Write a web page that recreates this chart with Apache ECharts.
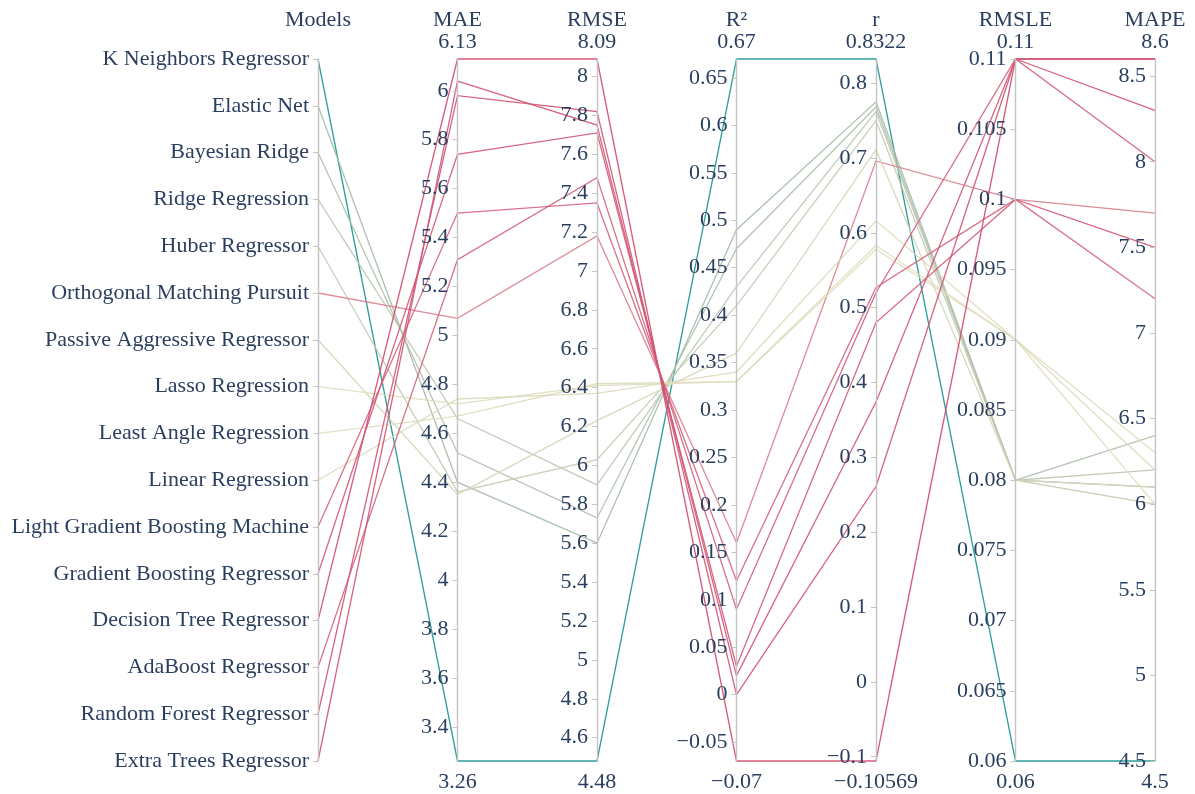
<!DOCTYPE html>
<html>
<head>
<meta charset="utf-8">
<script src="https://cdn.jsdelivr.net/npm/echarts@6/dist/echarts.min.js"></script>
<style>
  html, body { margin: 0; padding: 0; background: #fff; }
  #chart { width: 1195px; height: 794px; }
</style>
</head>
<body>
<div id="chart"></div>
<script>
// Regression model comparison, one row per model (top to bottom on the Models axis)
const models = [
  'K Neighbors Regressor', 'Elastic Net', 'Bayesian Ridge', 'Ridge Regression',
  'Huber Regressor', 'Orthogonal Matching Pursuit', 'Passive Aggressive Regressor',
  'Lasso Regression', 'Least Angle Regression', 'Linear Regression',
  'Light Gradient Boosting Machine', 'Gradient Boosting Regressor',
  'Decision Tree Regressor', 'AdaBoost Regressor', 'Random Forest Regressor',
  'Extra Trees Regressor'
];
const mae   = [3.26, 4.40, 4.52, 4.66, 4.36, 5.07, 4.35, 4.72, 4.67, 4.74, 5.50, 5.74, 6.13, 5.31, 5.98, 6.04];
const rmse  = [4.48, 5.60, 5.73, 5.90, 6.03, 7.18, 6.23, 6.41, 6.42, 6.37, 7.35, 7.71, 8.09, 7.48, 7.82, 7.75];
const r2    = [0.67, 0.49, 0.47, 0.43, 0.41, 0.16, 0.36, 0.33, 0.33, 0.34, 0.12, 0.03, -0.07, 0.09, 0.00, 0.02];
const rCorr = [0.8322, 0.775, 0.768, 0.762, 0.750, 0.696, 0.711, 0.583, 0.578, 0.616, 0.527, 0.48, -0.10569, 0.52, 0.261, 0.374];
const rmsle = [0.06, 0.08, 0.08, 0.08, 0.08, 0.10, 0.08, 0.09, 0.09, 0.09, 0.10, 0.10, 0.11, 0.11, 0.11, 0.11];
const mape  = [4.5, 6.1, 6.4, 6.2, 6.0, 7.7, 6.1, 6.3, 6.0, 6.2, 7.2, 7.5, 8.6, 8.0, 8.6, 8.3];

// Tick labels drawn on each metric axis
const maeTicks   = [3.4, 3.6, 3.8, 4, 4.2, 4.4, 4.6, 4.8, 5, 5.2, 5.4, 5.6, 5.8, 6];
const rmseTicks  = [4.6, 4.8, 5, 5.2, 5.4, 5.6, 5.8, 6, 6.2, 6.4, 6.6, 6.8, 7, 7.2, 7.4, 7.6, 7.8, 8];
const r2Ticks    = [-0.05, 0, 0.05, 0.1, 0.15, 0.2, 0.25, 0.3, 0.35, 0.4, 0.45, 0.5, 0.55, 0.6, 0.65];
const rTicks     = [-0.1, 0, 0.1, 0.2, 0.3, 0.4, 0.5, 0.6, 0.7, 0.8];
const rmsleTicks = [0.06, 0.065, 0.07, 0.075, 0.08, 0.085, 0.09, 0.095, 0.1, 0.105, 0.11];
const mapeTicks  = [4.5, 5, 5.5, 6, 6.5, 7, 7.5, 8, 8.5];

const metricNames  = ['MAE', 'RMSE', 'R²', 'r', 'RMSLE', 'MAPE'];
const metricValues = [mae, rmse, r2, rCorr, rmsle, mape];
const metricTicks  = [maeTicks, rmseTicks, r2Ticks, rTicks, rmsleTicks, mapeTicks];

const FONT = '"Liberation Serif", "Times New Roman", serif';
const TEXT = '#2a3f5f';
const FS = 22;
const W = 1195, LEFT = 318, RIGHT = 40, TOP = 59, BOTTOM = 33, H = 794;
const step = (W - LEFT - RIGHT) / metricNames.length;

const fmt = v => String(Number(Number(v).toFixed(5))).replace('-', '\u2212');

// Ticks and labels sit on the left-hand side of every axis
const axisCommon = {
  nameMoveOverlap: false,
  axisLine: { lineStyle: { color: '#c4c4c4', width: 1.4 } },
  axisTick: { show: true, length: -5, lineStyle: { color: '#c4c4c4' } },
  splitLine: { show: false },
  nameTextStyle: { color: TEXT, fontFamily: FONT, fontSize: FS, lineHeight: 22 },
  axisLabel: { color: TEXT, fontFamily: FONT, fontSize: FS, margin: -9, align: 'right' }
};

const parallelAxis = [{
  dim: 0,
  type: 'category',
  name: 'Models',
  nameLocation: 'start',
  nameGap: 28,
  data: models,
  inverse: true,
  boundaryGap: false,
  ...axisCommon,
  axisTick: { ...axisCommon.axisTick, alignWithLabel: true, interval: 0 },
  axisLabel: { ...axisCommon.axisLabel, interval: 0 }
}];

const rangeLabels = [];
metricNames.forEach((name, i) => {
  const vals = metricValues[i];
  const lo = Math.min(...vals), hi = Math.max(...vals);
  parallelAxis.push({
    dim: i + 1,
    type: 'value',
    name: name + '\n' + fmt(hi),
    nameGap: 6,
    min: lo,
    max: hi,
    ...axisCommon,
    axisTick: { ...axisCommon.axisTick, customValues: metricTicks[i] },
    axisLabel: { ...axisCommon.axisLabel, customValues: metricTicks[i], formatter: v => fmt(v) }
  });
  rangeLabels.push({
    type: 'text',
    silent: true,
    style: {
      text: fmt(lo),
      x: LEFT + step * (i + 1),
      y: H - BOTTOM + 21,
      textAlign: 'center',
      textVerticalAlign: 'middle',
      fontFamily: FONT,
      fontSize: FS,
      fill: TEXT
    }
  });
});

const rows = models.map((m, i) => [m, mae[i], rmse[i], r2[i], rCorr[i], rmsle[i], mape[i]]);

const chart = echarts.init(document.getElementById('chart'), null, { renderer: 'canvas' });
chart.setOption({
  animation: false,
  backgroundColor: '#fff',
  parallel: {
    left: LEFT, right: RIGHT, top: TOP, bottom: BOTTOM,
    layout: 'horizontal'
  },
  parallelAxis,
  visualMap: {
    show: false,
    type: 'continuous',
    dimension: 3,
    seriesIndex: 0,
    min: Math.min(...r2),
    max: Math.max(...r2),
    inRange: { color: ['#d1496c', '#d4607c', '#e9e2c0', '#a9bcaa', '#15958f'] }
  },
  graphic: rangeLabels,
  series: [{
    type: 'parallel',
    silent: true,
    smooth: false,
    lineStyle: { width: 1.3, opacity: 0.9 },
    data: rows
  }]
});
</script>
</body>
</html>
